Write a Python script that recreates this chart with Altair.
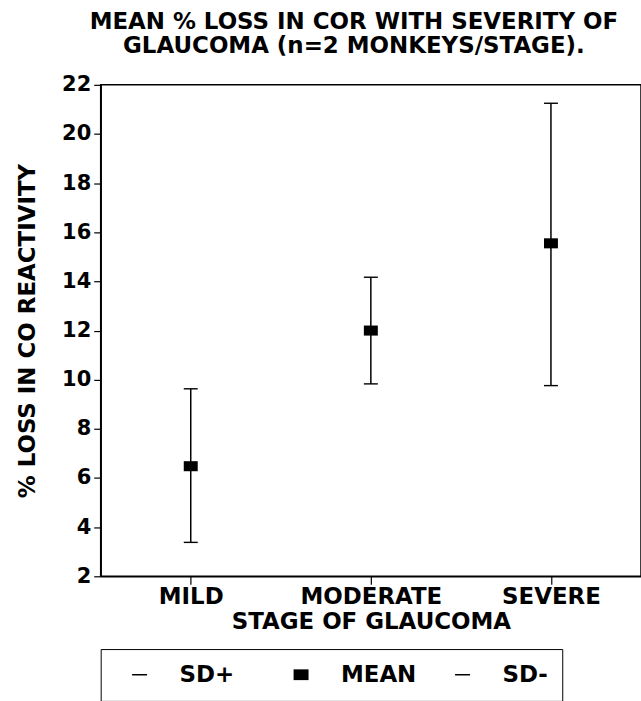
import altair as alt
import pandas as pd

stages = ["MILD", "MODERATE", "SEVERE"]
mean_vals = [6.48, 12.0, 15.55]
sd_plus_vals = [9.63, 14.17, 21.25]
sd_minus_vals = [3.38, 9.83, 9.76]
series_names = ["SD+", "MEAN", "SD-"]

wide = pd.DataFrame({"stage": stages, "mean": mean_vals,
                     "sdp": sd_plus_vals, "sdm": sd_minus_vals})
rows = []
for s, m, p, n in zip(stages, mean_vals, sd_plus_vals, sd_minus_vals):
    rows.append({"stage": s, "series": "SD+", "value": p})
    rows.append({"stage": s, "series": "MEAN", "value": m})
    rows.append({"stage": s, "series": "SD-", "value": n})
long = pd.DataFrame(rows)

FONT = "DejaVu Sans"
cap_path = "M-1,-0.1H1V0.1H-1Z"
rect_path = "M-1,-0.72H1V0.72H-1Z"

x_enc = alt.X("stage:N", sort=stages, scale=alt.Scale(type="point", padding=0.5),
              axis=alt.Axis(title="STAGE OF GLAUCOMA", labelAngle=0, tickSize=8,
                            labelPadding=1, titlePadding=2, labelFontSize=23))
y_scale = alt.Scale(domain=[2, 22], nice=False, zero=False)

rules = alt.Chart(wide).mark_rule(color="black", strokeWidth=1.5).encode(
    x=x_enc,
    y=alt.Y("sdm:Q", scale=y_scale,
            axis=alt.Axis(title="% LOSS IN CO REACTIVITY", values=list(range(2, 23, 2)),
                          tickSize=7, labelPadding=3, titlePadding=22, grid=False)),
    y2="sdp:Q",
)

points = alt.Chart(long).mark_point(filled=True, size=196, color="black", opacity=1).encode(
    x=alt.X("stage:N", sort=stages),
    y=alt.Y("value:Q", scale=y_scale),
    shape=alt.Shape("series:N", sort=series_names,
                    scale=alt.Scale(domain=series_names, range=[cap_path, rect_path, cap_path]),
                    legend=alt.Legend(title=None, orient="none", legendX=0, legendY=566,
                                      direction="horizontal", gridAlign="all",
                                      symbolSize=225, symbolFillColor="black",
                                      symbolStrokeWidth=0, symbolOffset=13.5,
                                      labelOffset=28.5,
                                      columnPadding=21, padding=14,
                                      strokeColor="black",
                                      labelFont=FONT, labelFontSize=23,
                                      labelFontWeight="bold", labelColor="black")),
)

chart = alt.layer(rules, points).properties(
    width=542, height=493,
    background="white",
    autosize=alt.AutoSizeParams(type="none"),
    padding={"left": 101, "top": 84, "right": 0, "bottom": 124},
    title=alt.TitleParams(
        text=["MEAN % LOSS IN COR WITH SEVERITY OF", "GLAUCOMA (n=2 MONKEYS/STAGE)."],
        font=FONT, fontSize=23, fontWeight="bold", color="black",
        anchor="middle", dx=-17, offset=16, lineHeight=24),
).configure_view(stroke="black", strokeWidth=1.5).configure_axis(
    labelFont=FONT, labelFontSize=21, labelFontWeight="bold", labelColor="black",
    titleFont=FONT, titleFontSize=23, titleFontWeight="bold", titleColor="black",
    domainColor="black", tickColor="black", domainWidth=1.5, tickWidth=1.2,
)

chart.save("out.html", embed_options={"renderer": "svg", "actions": False})
